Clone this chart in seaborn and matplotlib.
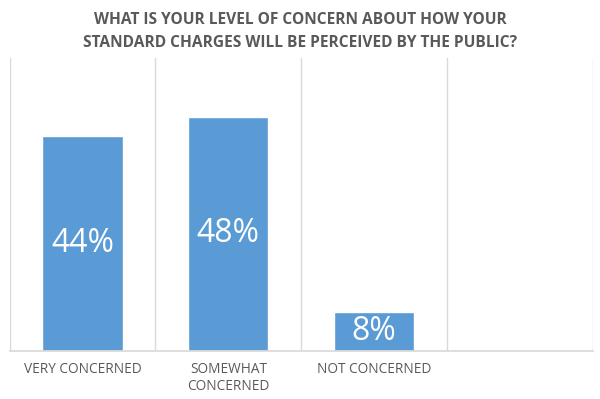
import seaborn as sns
import pandas as pd
import matplotlib.pyplot as plt

categories = ['VERY CONCERNED', 'SOMEWHAT\nCONCERNED', 'NOT CONCERNED']
percent = [44, 48, 8]
title = 'WHAT IS YOUR LEVEL OF CONCERN ABOUT HOW YOUR\nSTANDARD CHARGES WILL BE PERCEIVED BY THE PUBLIC?'

sns.set_theme(style='white')
plt.rcParams['font.family'] = ['Open Sans', 'DejaVu Sans']

df = pd.DataFrame({'Category': categories, 'Percent': percent})

fig = plt.figure(figsize=(6, 3.99), dpi=100)
ax = fig.add_axes([0.016, 0.12, 0.972, 0.735])

sns.barplot(data=df, x='Category', y='Percent', color='#5B9BD5',
            saturation=1, width=0.55, ax=ax)

ax.set_xlim(-0.5, 3.5)
ax.set_ylim(0, 60)
ax.set(xlabel=None, ylabel=None)
ax.set_yticks([])

# vertical separators between categories
for x in [-0.5, 0.5, 1.5, 2.5, 3.5]:
    ax.axvline(x, color='#d9d9d9', lw=1, zorder=0)

for s in ['top', 'left', 'right']:
    ax.spines[s].set_visible(False)
ax.spines['bottom'].set_color('#d9d9d9')
ax.tick_params(axis='x', length=0, pad=8, labelsize=9.8, labelcolor='#595959')

for i, v in enumerate(percent):
    ax.text(i, v / 2, f'{v}%', ha='center', va='center', color='white',
            fontsize=23)

fig.suptitle(title, y=0.97, fontsize=11.2, fontweight='bold', color='#595959',
             linespacing=1.55)

fig.savefig('out.png', dpi=100)
